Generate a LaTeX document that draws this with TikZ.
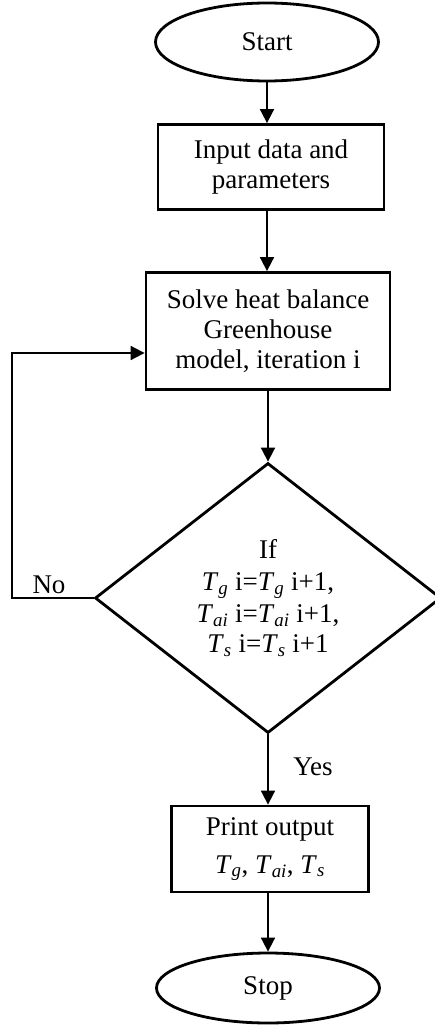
\documentclass[tikz,border=0pt]{standalone}
\usepackage{fontspec}
\setmainfont{Liberation Serif}
\usetikzlibrary{shapes.geometric,arrows.meta}
\newcommand{\Tv}[1]{\textit{T}\textsubscript{\textit{#1}}}
\begin{document}
\begin{tikzpicture}[x=1pt,y=-1pt,
  base/.style={draw=black,line width=2.8pt,font=\fontsize{27}{30}\selectfont,align=center,inner sep=0pt},
  term/.style={base,ellipse,minimum width=223,minimum height=78},
  proc/.style={base,rectangle},
  dec/.style={base,diamond,aspect=1.28},
  arr/.style={line width=1.8pt,-{Triangle[width=14pt,length=14pt]}},
  lbl/.style={font=\fontsize{27}{30}\selectfont,inner sep=0pt}]
\useasboundingbox (0,0) rectangle (434,1025);
\node[term] (start) at (267,42) {Start};
\node[proc,minimum width=226,minimum height=85] (input) at (271,167) {Input data and\\parameters};
\node[proc,minimum width=244,minimum height=117] (solve) at (268,331) {Solve heat balance\\Greenhouse\\model, iteration i};
\node[dec,minimum width=346,minimum height=270] (dec) at (268,598) {If\\[2pt]\Tv{g} i=\Tv{g} i+1,\\[2pt]\Tv{ai} i=\Tv{ai} i+1,\\[0pt]\Tv{s} i=\Tv{s} i+1};
\node[proc,minimum width=197,minimum height=86] (print) at (270,849) {Print output\\[8pt]\Tv{g}, \Tv{ai}, \Tv{s}};
\node[term,minimum height=70] (stop) at (268,988) {Stop};
\coordinate (loopx) at (12,0);
\coordinate (solvein) at ([yshift=-22pt]solve.west);
\draw[arr] (start.south) -- (start.south |- input.north);
\draw[arr] (input.south -| start.south) -- (start.south |- solve.north);
\draw[arr] (solve.south) -- (dec.north);
\draw[arr] (dec.south) -- (dec.south |- print.north);
\draw[arr] (print.south -| dec.south) -- (stop.north);
\draw[arr] (dec.west) -- (dec.west -| loopx) |- (solvein);
\node[lbl] (no) at (49,585) {No};
\node[lbl] (yes) at (313,767) {Yes};
\end{tikzpicture}
\end{document}
